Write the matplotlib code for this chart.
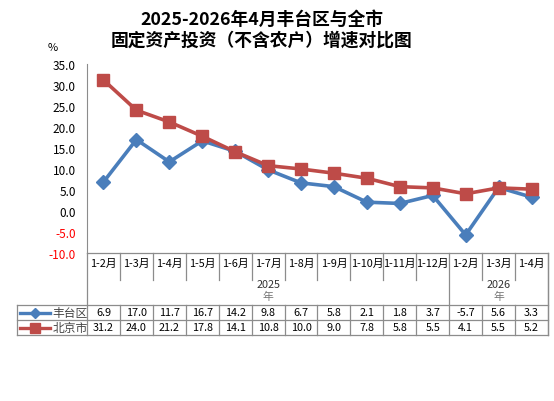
import matplotlib
matplotlib.use("Agg")
import matplotlib.pyplot as plt
import numpy as np

plt.rcParams['font.family'] = ['Noto Sans CJK SC', 'DejaVu Sans']

months = ["1-2月", "1-3月", "1-4月", "1-5月", "1-6月", "1-7月", "1-8月", "1-9月",
          "1-10月", "1-11月", "1-12月", "1-2月", "1-3月", "1-4月"]
years = ["2025", "2026"]
year_counts = [11, 3]
fengtai = [6.9, 17.0, 11.7, 16.7, 14.2, 9.8, 6.7, 5.8, 2.1, 1.8, 3.7, -5.7, 5.6, 3.3]
beijing = [31.2, 24.0, 21.2, 17.8, 14.1, 10.8, 10.0, 9.0, 7.8, 5.8, 5.5, 4.1, 5.5, 5.2]
series_names = ["丰台区", "北京市"]

blue = "#4A7EBB"
red = "#BE4B48"
grid = "#8C8C8C"
W, H = 554, 402

fig = plt.figure(figsize=(W / 100, H / 100), dpi=100)

def fy(py):
    return 1 - py / H

left, right, top, bottom = 87 / W, 548 / W, fy(65), fy(254)
ax = fig.add_axes([left, bottom, right - left, top - bottom])
x = np.arange(len(months))
n = len(months)

ax.plot(x, fengtai, color=blue, lw=2.6, marker="D", ms=7, zorder=3)
ax.plot(x, beijing, color=red, lw=2.6, marker="s", ms=8, zorder=3)
ax.set_xlim(-0.5, n - 0.5)
ax.set_ylim(-10, 35)
yt = np.arange(-10, 36, 5)
ax.set_yticks(yt)
ax.set_yticklabels([f"{v:.1f}" for v in yt], fontsize=8.5)
for lab, v in zip(ax.get_yticklabels(), yt):
    lab.set_color("red" if v < 0 else "black")
ax.tick_params(axis="y", length=0, pad=8)
ax.set_xticks([])
for s in ["top", "right", "bottom"]:
    ax.spines[s].set_visible(False)
ax.spines["left"].set_color(grid)

# table below the plot
tb = fig.add_axes([left, fy(336), right - left, fy(254) - fy(336)])
tb.set_xlim(-0.5, n - 0.5)
tb.set_ylim(82, 0)
tb.axis("off")
lx = -0.5 + (17 - 87) * n / (548 - 87)

def hl(y, x0, x1):
    tb.plot([x0, x1], [y, y], color=grid, lw=0.9, clip_on=False)

def vl(xx, y0, y1):
    tb.plot([xx, xx], [y0, y1], color=grid, lw=0.9, clip_on=False)

hl(0, -0.5, n - 0.5)
hl(52, lx, n - 0.5)
hl(67, lx, n - 0.5)
hl(82, lx, n - 0.5)
vl(lx, 52, 82)
vl(-0.5, 0, 82)
vl(n - 0.5, 0, 82)
edge = -0.5
for cnt in year_counts:
    for k in range(1, cnt):
        vl(edge + k, 0, 27)
        vl(edge + k, 52, 82)
    edge += cnt
    vl(edge, 0, 82)

for i, m in enumerate(months):
    tb.text(i, 10, m, ha="center", va="center", fontsize=7.8)
    tb.text(i, 59.5, f"{fengtai[i]:.1f}", ha="center", va="center", fontsize=7.8)
    tb.text(i, 74.5, f"{beijing[i]:.1f}", ha="center", va="center", fontsize=7.8)

start = -0.5
for yr, cnt in zip(years, year_counts):
    c = start + cnt / 2
    tb.text(c, 31, yr, ha="center", va="center", fontsize=7.8, color="#333333")
    tb.text(c, 43, "年", ha="center", va="center", fontsize=7.8, color="#777777")
    start += cnt

# legend keys in the table
for yy, col, mk, ms, name in [(59.5, blue, "D", 5, series_names[0]),
                              (74.5, red, "s", 6.5, series_names[1])]:
    tb.plot([lx + 0.1, lx + 1.0], [yy, yy], color=col, lw=2.4, clip_on=False)
    tb.plot([lx + 0.55], [yy], color=col, marker=mk, ms=ms, clip_on=False)
    tb.text(lx + 1.07, yy, name, ha="left", va="center", fontsize=8.5, color="#444444")

fig.text(262 / W, fy(20), "2025-2026年4月丰台区与全市", ha="center", va="center",
         fontsize=12.8, fontweight="bold")
fig.text(262 / W, fy(41), "固定资产投资（不含农户）增速对比图", ha="center", va="center",
         fontsize=12.8, fontweight="bold")
fig.text(53 / W, fy(48), "%", ha="center", va="center", fontsize=8)

fig.savefig("out.png", dpi=100)
